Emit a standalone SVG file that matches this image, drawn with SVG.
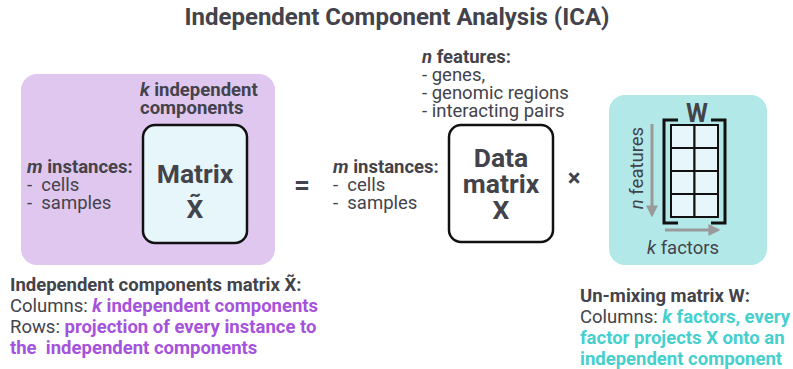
<svg xmlns="http://www.w3.org/2000/svg" width="793" height="369" viewBox="0 0 793 369">
  <style>
    text { font-family: Roboto, "Liberation Sans", sans-serif; fill: #43434b; }
    .t { font-size: 18.5px; }
    .b { font-weight: bold; }
    .i { font-style: italic; }
    .big { font-size: 26.5px; font-weight: bold; }
    .pur { fill: #a552dc; font-weight: bold; }
    .teal { fill: #45d0cf; font-weight: bold; }
    .frame { fill: #e6f6fa; stroke: #111; stroke-width: 2.5; }
    .cell { fill: #e6f6fa; stroke: #111; stroke-width: 2; }
    .brk { fill: none; stroke: #111; stroke-width: 3; }
    .ax { stroke: #9a9a9a; stroke-width: 3; fill: none; }
  </style>
  <defs>
    <marker id="ah" viewBox="0 0 10 10" refX="8" refY="5" markerWidth="4" markerHeight="4" orient="auto" markerUnits="strokeWidth">
      <path d="M0,0 L10,5 L0,10 z" fill="#9a9a9a"/>
    </marker>
  </defs>

  <rect width="793" height="369" fill="#ffffff"/>

  <text x="397" y="25" text-anchor="middle" class="b" font-size="24">Independent Component Analysis (ICA)</text>

  <!-- independent components matrix -->
  <g id="ic-matrix">
    <rect x="21" y="74" width="254" height="191" rx="16" fill="#e0c7f0"/>
    <text x="140" y="96" class="t b"><tspan class="i">k</tspan> independent</text>
    <text x="140" y="114" class="t b">components</text>
    <text x="27" y="173" class="t b"><tspan class="i">m</tspan> instances:</text>
    <text x="27" y="191" class="t" xml:space="preserve">-  cells</text>
    <text x="27" y="209" class="t" xml:space="preserve">-  samples</text>
    <rect x="143" y="125" width="104" height="118" rx="12" class="frame"/>
    <text x="195" y="183" text-anchor="middle" class="big">Matrix</text>
    <text x="195" y="218" text-anchor="middle" class="big">X̃</text>
  </g>

  <g id="ops">
    <text x="302" y="194" text-anchor="middle" class="b" font-size="28">=</text>
    <text x="574" y="186" text-anchor="middle" class="b" font-size="24">×</text>
  </g>

  <!-- data matrix -->
  <g id="data-matrix">
    <text x="422" y="63" class="t b"><tspan class="i">n</tspan> features:</text>
    <text x="422" y="81" class="t">- genes,</text>
    <text x="422" y="99" class="t">- genomic regions</text>
    <text x="422" y="117" class="t">- interacting pairs</text>
    <text x="333" y="173" class="t b"><tspan class="i">m</tspan> instances:</text>
    <text x="333" y="191" class="t" xml:space="preserve">-  cells</text>
    <text x="333" y="209" class="t" xml:space="preserve">-  samples</text>
    <rect x="449" y="125" width="104" height="117" rx="12" fill="#ffffff" stroke="#111" stroke-width="2.5"/>
    <text x="501" y="167" text-anchor="middle" class="big">Data</text>
    <text x="501" y="193" text-anchor="middle" class="big">matrix</text>
    <text x="501" y="219" text-anchor="middle" class="big">X</text>
  </g>

  <!-- un-mixing matrix -->
  <g id="w-matrix">
    <rect x="609" y="95" width="158" height="170" rx="16" fill="#b3e8e8"/>
    <text x="697" y="122" text-anchor="middle" class="b" font-size="25">W</text>
    <rect x="671" y="125" width="23.5" height="23" class="cell"/>
    <rect x="694.5" y="125" width="23.5" height="23" class="cell"/>
    <rect x="671" y="148" width="23.5" height="23" class="cell"/>
    <rect x="694.5" y="148" width="23.5" height="23" class="cell"/>
    <rect x="671" y="171" width="23.5" height="23" class="cell"/>
    <rect x="694.5" y="171" width="23.5" height="23" class="cell"/>
    <rect x="671" y="194" width="23.5" height="23" class="cell"/>
    <rect x="694.5" y="194" width="23.5" height="23" class="cell"/>
    <path d="M678,120 H664 V223 H678" class="brk"/>
    <path d="M711,120 H725 V223 H711" class="brk"/>
    <text transform="translate(643,168) rotate(-90)" text-anchor="middle" class="t" fill="#555"><tspan class="i">n</tspan> features</text>
    <text x="683" y="254" text-anchor="middle" class="t"><tspan class="i">k</tspan> factors</text>
  </g>

  <g id="connectors">
    <line x1="652" y1="124" x2="652" y2="215" class="ax" marker-end="url(#ah)"/>
    <line x1="665" y1="230" x2="718" y2="230" class="ax" marker-end="url(#ah)"/>
  </g>

  <!-- captions -->
  <g id="caption-ic">
    <text x="10" y="291" class="t b">Independent components matrix X̃:</text>
    <text x="10" y="312" class="t">Columns: <tspan class="pur"><tspan class="i">k</tspan> independent components</tspan></text>
    <text x="10" y="333" class="t">Rows: <tspan class="pur">projection of every instance to</tspan></text>
    <text x="10" y="354" class="t pur" xml:space="preserve">the  independent components</text>
  </g>
  <g id="caption-w">
    <text x="580" y="302" class="t b">Un-mixing matrix W:</text>
    <text x="580" y="323" class="t">Columns: <tspan class="teal"><tspan class="i">k</tspan> factors, every</tspan></text>
    <text x="580" y="344" class="t teal">factor projects X onto an</text>
    <text x="580" y="365" class="t teal">independent component</text>
  </g>
</svg>
